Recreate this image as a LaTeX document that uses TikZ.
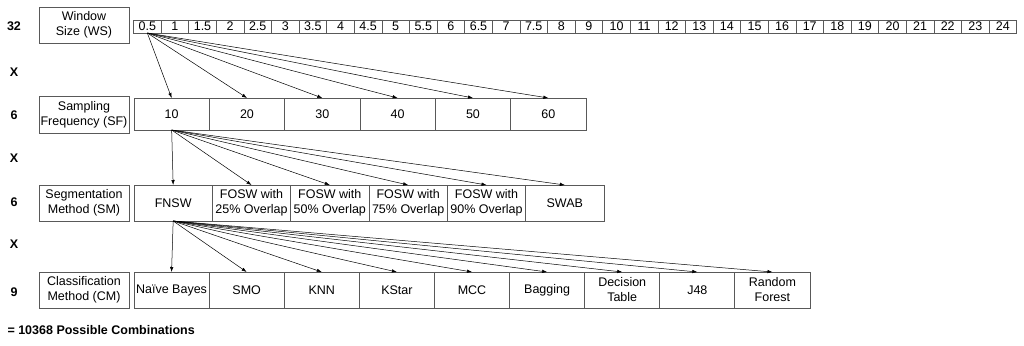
\documentclass[tikz,border=0pt]{standalone}
\usepackage{fontspec}
\setmainfont{Liberation Sans}
\usetikzlibrary{arrows.meta}

\begin{document}
\begin{tikzpicture}[x=1pt, y=-1pt, every node/.style={font=\fontsize{12.5}{15}\selectfont}]
\tikzset{param/.style={draw=black!65, line width=0.8pt, align=center, minimum width=90pt,
  minimum height=36pt, inner sep=1pt},
  cell/.style={draw=black!65, line width=0.8pt, align=center, inner sep=1pt, outer sep=0pt},
  count/.style={font=\fontsize{12.5}{15}\selectfont\bfseries},
  choice/.style={-{Latex[length=5pt,width=3.5pt]}, line width=0.5pt}}
\useasboundingbox (0,0) rectangle (1024,345);

\node[count] (n32) at (14,26) {32};
\node[count] (x1) at (14,72) {X};
\node[count] (n6a) at (14,115) {6};
\node[count] (x2) at (14,158) {X};
\node[count] (n6b) at (14,202) {6};
\node[count] (x3) at (14,244) {X};
\node[count] (n9) at (14,292) {9};
\node[count, anchor=west] (total) at (4,330) {= 10368 Possible Combinations};

\node[param] (ws) at (84,25) {Window\\ Size (WS)};
\node[param, minimum height=37pt] (sf) at (84,114.5) {Sampling\\ Frequency (SF)};
\node[param] (sm) at (84,203) {Segmentation\\ Method (SM)};
\node[param] (cm) at (84,290) {Classification\\ Method (CM)};

\foreach \v [count=\i] in {0.5,1,1.5,2,2.5,3,3.5,4,4.5,5,5.5,6,6.5,7,7.5,8,
    9,10,11,12,13,14,15,16,17,18,19,20,21,22,23,24}
  \node[cell, minimum width=27.6pt, minimum height=13pt, inner sep=0pt] (ws\i)
    at ({133.5+27.6*(\i-0.5)},26.5) {\v};

\foreach \v [count=\i] in {10,20,30,40,50,60}
  \node[cell, minimum width=75.33pt, minimum height=32pt] (sf\i)
    at ({134+75.33*(\i-0.5)},114) {\v};

\foreach \v [count=\i] in {FNSW,FOSW with\\25\% Overlap,FOSW with\\50\% Overlap,
    FOSW with\\75\% Overlap,FOSW with\\90\% Overlap,SWAB}
  \node[cell, minimum width=78.33pt, minimum height=36pt] (sm\i)
    at ({134+78.33*(\i-0.5)},203) {\v};

\foreach \v [count=\i] in {Naïve Bayes,SMO,KNN,KStar,MCC,Bagging,Decision\\Table,J48,Random\\Forest}
  \node[cell, minimum width=75.11pt, minimum height=36pt] (cm\i)
    at ({134+75.11*(\i-0.5)},290) {\v};

\foreach \i in {1,...,6}
  \draw[choice] (ws1.south) -- (sf\i.north);
\foreach \i in {1,...,6}
  \draw[choice] (sf1.south) -- (sm\i.north);
\foreach \i in {1,...,9}
  \draw[choice] (sm1.south) -- (cm\i.north);
\end{tikzpicture}
\end{document}
